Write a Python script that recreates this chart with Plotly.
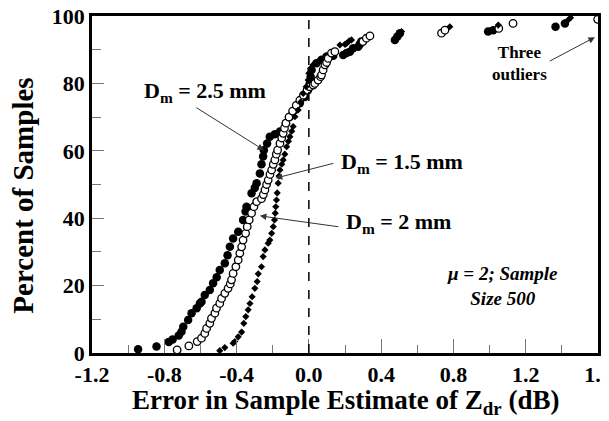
import plotly.graph_objects as go

# Dm = 2.5 mm (filled circles): error (dB), percent of samples
dm25_x = [-0.945, -0.843, -0.775, -0.754, -0.72, -0.705, -0.695, -0.668, -0.649, -0.621,
          -0.603, -0.594, -0.576, -0.548, -0.53, -0.51, -0.493, -0.465, -0.45, -0.437,
          -0.419, -0.391, -0.364, -0.35, -0.345, -0.317, -0.299, -0.289, -0.271, -0.262,
          -0.253, -0.249, -0.231, -0.216, -0.188, -0.16, -0.127, -0.105, -0.077, -0.05,
          -0.022, -0.005, 0.005, 0.01, 0.015, 0.042, 0.07, 0.098, 0.135, 0.19,
          0.209, 0.227, 0.245, 0.273, 0.282, 0.29, 0.476, 0.49, 0.504, 0.992,
          1.02, 1.365, 1.417]
dm25_y = [1.1, 1.9, 3.3, 4.0, 5.2, 6.3, 7.8, 9.8, 11.8, 13.3,
          14.7, 15.2, 17.2, 18.7, 20.7, 22.5, 24.6, 26.6, 29.0, 31.5,
          34.0, 36.0, 39.5, 42.0, 43.4, 47.4, 49.0, 50.4, 53.3, 56.0,
          58.3, 60.2, 62.2, 64.2, 64.9, 65.7, 68.2, 70.1, 72.1, 74.1,
          76.0, 78.0, 80.0, 82.0, 84.0, 86.0, 87.0, 88.0, 88.2, 88.4,
          89.0, 89.4, 90.4, 90.9, 91.6, 92.4, 92.9, 93.9, 94.9, 95.4,
          95.8, 96.8, 97.8]

# Dm = 2 mm (open circles)
dm20_x = [-0.729, -0.664, -0.618, -0.594, -0.576, -0.566, -0.548, -0.539, -0.52, -0.511,
          -0.493, -0.483, -0.465, -0.447, -0.435, -0.428, -0.419, -0.404, -0.391, -0.382,
          -0.372, -0.364, -0.35, -0.341, -0.33, -0.317, -0.304, -0.289, -0.262, -0.252,
          -0.243, -0.234, -0.225, -0.215, -0.206, -0.197, -0.188, -0.18, -0.173, -0.16,
          -0.15, -0.142, -0.135, -0.127, -0.11, -0.09, -0.07, -0.05, -0.03, -0.01,
          0.005, 0.024, 0.033, 0.051, 0.065, 0.07, 0.079, 0.089, 0.098, 0.107,
          0.125, 0.144, 0.299, 0.318, 0.338, 0.734, 0.753, 1.051, 1.13, 1.598]
dm20_y = [0.9, 2.1, 3.4, 4.4, 5.8, 7.3, 8.8, 10.3, 11.8, 13.3,
          14.7, 16.2, 17.7, 19.2, 20.5, 21.7, 23.6, 25.6, 27.6, 29.6,
          31.5, 33.5, 35.5, 37.5, 39.5, 41.5, 43.4, 44.9, 45.8, 47.0,
          48.4, 50.0, 51.3, 53.0, 54.3, 56.0, 57.3, 59.0, 60.2, 62.2,
          63.8, 65.2, 66.7, 68.2, 70.0, 71.8, 73.5, 75.0, 76.5, 78.0,
          79.0, 79.5, 80.0, 81.0, 82.0, 82.5, 84.0, 85.5, 86.2, 87.4,
          89.0, 89.4, 92.4, 93.4, 94.1, 94.9, 95.8, 96.3, 97.8, 99.0]

# Dm = 1.5 mm (small filled diamonds)
dm15_x = [-0.493, -0.465, -0.419, -0.41, -0.391, -0.372, -0.36, -0.349, -0.336, -0.326,
          -0.314, -0.299, -0.286, -0.28, -0.262, -0.253, -0.243, -0.225, -0.216, -0.206,
          -0.197, -0.19, -0.186, -0.183, -0.179, -0.175, -0.17, -0.165, -0.16, -0.15,
          -0.142, -0.133, -0.123, -0.113, -0.105, -0.095, -0.087, -0.077, -0.059, -0.045,
          -0.031, -0.015, -0.004, 0.0, 0.01, 0.024, 0.05, 0.172, 0.2, 0.209,
          0.223, 0.236, 0.513, 0.78, 1.048, 1.435, 1.448]
dm15_y = [0.7, 1.6, 2.9, 3.4, 4.8, 6.2, 8.8, 10.8, 12.8, 14.7,
          16.7, 19.2, 21.2, 23.5, 25.6, 28.6, 30.6, 32.6, 33.5, 35.5,
          37.5, 39.5, 41.5, 43.4, 45.4, 47.5, 50.4, 52.5, 54.3, 56.0,
          57.3, 59.0, 61.2, 62.8, 64.2, 65.8, 67.2, 70.1, 72.1, 74.5,
          77.0, 79.0, 81.0, 83.0, 84.5, 85.5, 86.5, 91.4, 91.6, 91.9,
          92.6, 92.9, 95.4, 96.8, 97.3, 98.8, 99.5]

x_ticks = [-1.2, -0.8, -0.4, 0.0, 0.4, 0.8, 1.2, 1.6]
x_tick_labels = ["-1.2", "-0.8", "-0.4", "0.0", "0.4", "0.8", "1.2", "1.6"]
y_ticks = [0, 20, 40, 60, 80, 100]

FONT = "Liberation Serif, Times New Roman, serif"

fig = go.Figure()
fig.add_trace(go.Scatter(x=dm25_x, y=dm25_y, mode="markers", name="Dm = 2.5 mm",
                         marker=dict(symbol="circle", size=8.5, color="black")))
fig.add_trace(go.Scatter(x=dm20_x, y=dm20_y, mode="markers", name="Dm = 2 mm",
                         marker=dict(symbol="circle", size=7.5, color="white",
                                     line=dict(color="black", width=1.3))))
fig.add_trace(go.Scatter(x=dm15_x, y=dm15_y, mode="markers", name="Dm = 1.5 mm",
                         marker=dict(symbol="diamond", size=5.5, color="black")))

fig.add_shape(type="line", x0=0, x1=0, y0=0, y1=100, xref="x", yref="y",
              line=dict(color="black", width=1.5, dash="dash"))

def label(text, x, y, size, italic=False):
    fig.add_annotation(x=x, y=y, xref="x", yref="y", text=text, showarrow=False,
                       font=dict(family=FONT, size=size, color="black", weight="bold",
                                 style="italic" if italic else "normal"))

def arrow(x0, y0, x1, y1):
    fig.add_annotation(x=x1, y=y1, ax=x0, ay=y0, xref="x", yref="y", axref="x", ayref="y",
                       text="", showarrow=True, arrowhead=2, arrowsize=1.3, arrowwidth=1,
                       arrowcolor="#333333", standoff=0, startstandoff=0)

label("D<sub>m</sub> = 2.5 mm", -0.573, 77.5, 22)
label("D<sub>m</sub> = 1.5 mm", 0.513, 56.5, 22)
label("D<sub>m</sub> = 2 mm", 0.498, 38.5, 22)
label("Three<br>outliers", 1.168, 85.8, 17)
label("\u03bc = 2; Sample<br>Size 500", 1.074, 20.0, 19, italic=True)

arrow(-0.631, 73.1, -0.249, 60.2)
arrow(0.144, 56.4, -0.183, 51.9)
arrow(0.172, 37.4, -0.271, 40.7)
arrow(1.325, 86.4, 1.583, 93.7)

# axis titles as paper annotations
fig.add_annotation(x=0.5, y=-0.145, xref="paper", yref="paper", showarrow=False,
                   xanchor="center", yanchor="middle",
                   text="Error in Sample Estimate of Z<sub>dr</sub> (dB)",
                   font=dict(family=FONT, size=27, color="black", weight="bold"))
fig.add_annotation(x=-0.137, y=0.466, xref="paper", yref="paper", showarrow=False,
                   xanchor="center", yanchor="middle", textangle=-90,
                   text="Percent of Samples",
                   font=dict(family=FONT, size=29, color="black", weight="bold"))

fig.update_xaxes(range=[-1.2, 1.6], tickvals=x_ticks, ticktext=x_tick_labels,
                 ticks="inside", ticklen=14, tickwidth=1, tickcolor="#777777",
                 minor=dict(dtick=0.2, tick0=0, ticks="inside", ticklen=8, tickcolor="#777777"),
                 showline=True, linecolor="black", linewidth=2.5, mirror=True,
                 showgrid=False, zeroline=False, automargin=False,
                 ticklabeloverflow="allow",
                 tickfont=dict(family=FONT, size=22, color="black", weight="bold"))
fig.update_yaxes(range=[0, 100], tickvals=y_ticks,
                 ticks="inside", ticklen=12, tickwidth=1, tickcolor="#777777",
                 minor=dict(dtick=10, tick0=0, ticks="inside", ticklen=9, tickcolor="#777777"),
                 showline=True, linecolor="black", linewidth=2.5, mirror=True,
                 showgrid=False, zeroline=False, automargin=False,
                 ticklabeloverflow="allow",
                 tickfont=dict(family=FONT, size=22, color="black", weight="bold"))

# the page body adds an 8 px offset, so the margins compensate for it
fig.update_layout(width=609, height=421, showlegend=False,
                  paper_bgcolor="white", plot_bgcolor="white",
                  margin=dict(l=84, r=19, t=8, b=76, autoexpand=False))

fig.write_html("out.html")
